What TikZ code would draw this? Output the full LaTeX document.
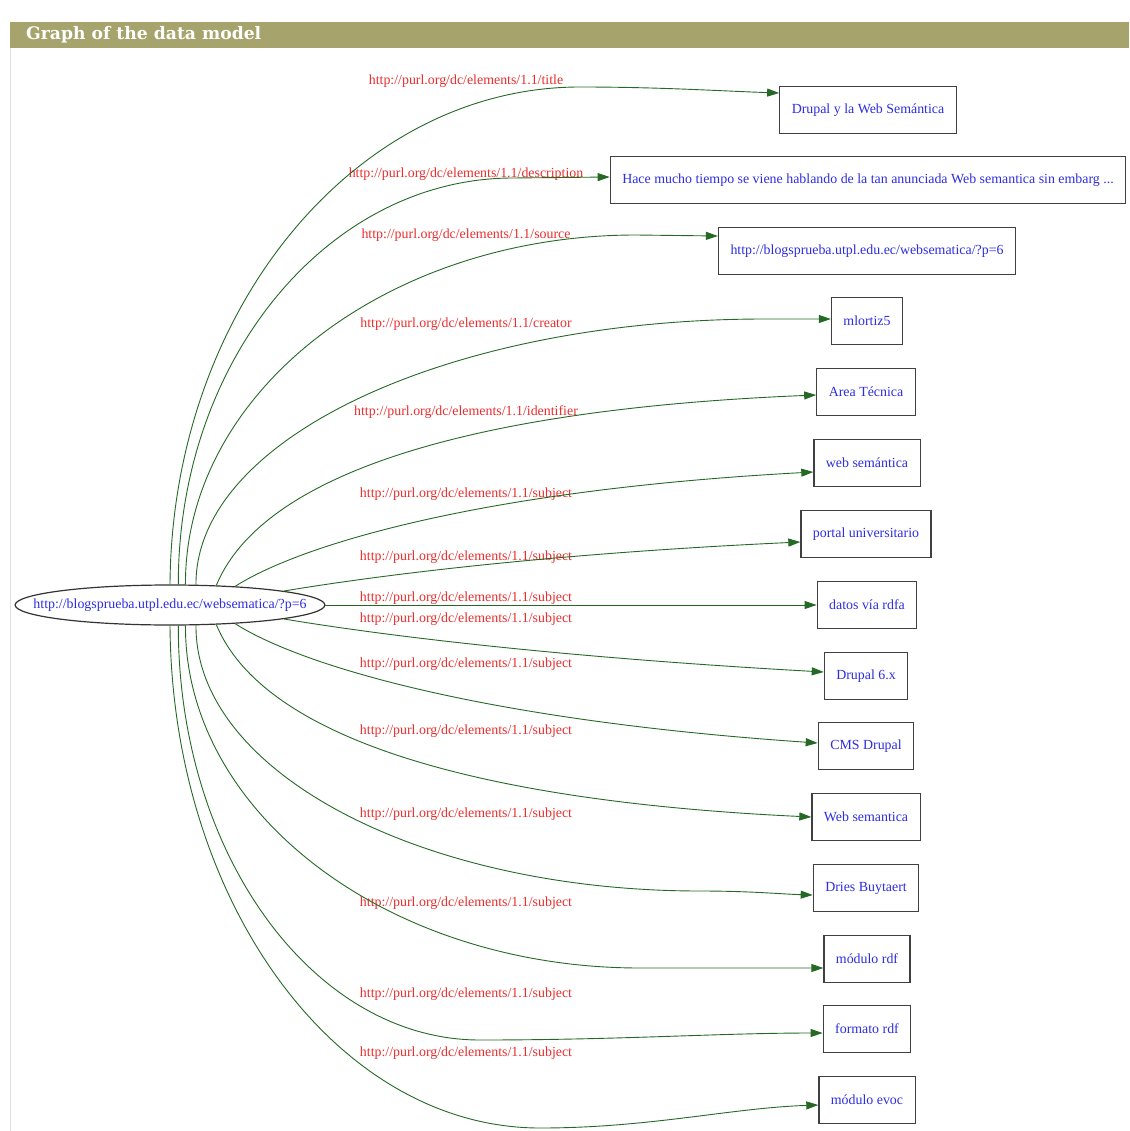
\documentclass[tikz,border=0pt]{standalone}
\usepackage{fontspec}
\setmainfont{Liberation Serif}
\newfontfamily\headfont{DejaVu Serif}
\usetikzlibrary{arrows.meta,shapes.geometric}
\definecolor{barolive}{RGB}{166,163,108}
\definecolor{edgegreen}{RGB}{38,105,38}
\definecolor{predred}{RGB}{235,45,45}
\definecolor{resblue}{RGB}{45,45,225}
\newcommand{\gfont}{\fontsize{13.9}{15}\selectfont}
\newcommand{\purl}{http://purl.org/dc/elements/1.1/}

\tikzset{
  res/.style={draw=black!75, line width=1.2pt, fill=white, text=resblue,
    minimum height=47pt, inner xsep=12pt, font=\gfont},
  subj/.style={ellipse, draw=black!80, line width=1.2pt, text=resblue,
    minimum height=40pt, inner xsep=-27pt, inner ysep=0pt, font=\gfont},
  pred/.style={text=predred, inner sep=0pt, font=\gfont},
  rel/.style={edgegreen, line width=0.9pt, -{Triangle[length=12pt,width=8pt]}},
}

\begin{document}
\begin{tikzpicture}[x=1pt,y=-1pt]
\fill[white] (0,0) rectangle (1129,1131);
\useasboundingbox (0,0) rectangle (1129,1131);
% header bar
\fill[barolive] (10,22) rectangle (1129,48);
\draw[black!12] (10,48) -- (10,1131);
\node[anchor=west, text=white, font=\headfont\bfseries\fontsize{17.2}{19}\selectfont, inner sep=0pt] (head) at (26,35) {Graph of the data model};

% subject
\node[subj] (post) at (170,605) {http://blogsprueba.utpl.edu.ec/websematica/?p=6};

% objects
\node[res] (n1) at (868,110) {Drupal y la Web Semántica};
\node[res] (n2) at (868,180) {Hace mucho tiempo se viene hablando de la tan anunciada Web semantica sin embarg ...};
\node[res] (n3) at (867,251) {http://blogsprueba.utpl.edu.ec/websematica/?p=6};
\node[res] (n4) at (867,321) {mlortiz5};
\node[res] (n5) at (866,392) {Area Técnica};
\node[res] (n6) at (867,463) {web semántica};
\node[res] (n7) at (866,534) {portal universitario};
\node[res] (n8) at (867,605) {datos vía rdfa};
\node[res] (n9) at (866,676) {Drupal 6.x};
\node[res] (n10) at (866,746) {CMS Drupal};
\node[res] (n11) at (866,817) {Web semantica};
\node[res] (n12) at (866,888) {Dries Buytaert};
\node[res] (n13) at (867,959) {módulo rdf};
\node[res] (n14) at (867,1029) {formato rdf};
\node[res] (n15) at (867,1100) {módulo evoc};

% predicates
\node[pred] (p1) at (466,81) {\purl title};
\node[pred] (p2) at (466,174) {\purl description};
\node[pred] (p3) at (466,235) {\purl source};
\node[pred] (p4) at (466,324) {\purl creator};
\node[pred] (p5) at (466,412) {\purl identifier};
\node[pred] (p6) at (466,494) {\purl subject};
\node[pred] (p7) at (466,557) {\purl subject};
\node[pred] (p8) at (466,598) {\purl subject};
\node[pred] (p9) at (466,619) {\purl subject};
\node[pred] (p10) at (466,664) {\purl subject};
\node[pred] (p11) at (466,731) {\purl subject};
\node[pred] (p12) at (466,814) {\purl subject};
\node[pred] (p13) at (466,903) {\purl subject};
\node[pred] (p14) at (466,994) {\purl subject};
\node[pred] (p15) at (466,1053) {\purl subject};

% edges, upper fan
\draw[rel] (post.90) .. controls (172,310) and (355,87) .. (580,87) .. controls (660,87) and (720,91) .. ([yshift=17pt]n1.west);
\draw[rel] (post.68) .. controls (178,360) and (328,178) .. (513,178) -- ([yshift=3pt]n2.west);
\draw[rel] (post.53) .. controls (185,392) and (387,235) .. (636,235) -- ([yshift=15pt]n3.west);
\draw[rel] (post.38) .. controls (195,438) and (450,319) .. (765,319) -- ([yshift=2pt]n4.west);
\draw[rel] (post.23) .. controls (260,480) and (450,410) .. ([yshift=-3pt]n5.west);
\draw[rel] (post.16) .. controls (300,545) and (480,490) .. ([yshift=-9pt]n6.west);
\draw[rel] (post.7) .. controls (350,580) and (520,555) .. ([yshift=-8pt]n7.west);
\draw[rel] (post.east) -- (n8.west);
% edges, lower fan
\draw[rel] (post.-7) .. controls (350,630) and (520,655) .. ([yshift=4pt]n9.west);
\draw[rel] (post.-16) .. controls (300,665) and (480,720) .. ([yshift=3pt]n10.west);
\draw[rel] (post.-23) .. controls (260,730) and (450,800) .. (n11.west);
\draw[rel] (post.-38) .. controls (195,772) and (421,891) .. (700,891) .. controls (750,891) and (780,894) .. ([yshift=-7pt]n12.west);
\draw[rel] (post.-53) .. controls (185,814) and (389,968) .. (640,968) -- ([yshift=-9pt]n13.west);
\draw[rel] (post.-68) .. controls (178,854) and (313,1040) .. (480,1040) .. controls (620,1040) and (720,1033) .. ([yshift=-4pt]n14.west);
\draw[rel] (post.-90) .. controls (172,903) and (337,1128) .. (540,1128) .. controls (650,1128) and (730,1108) .. ([yshift=-5pt]n15.west);
\end{tikzpicture}
\end{document}
